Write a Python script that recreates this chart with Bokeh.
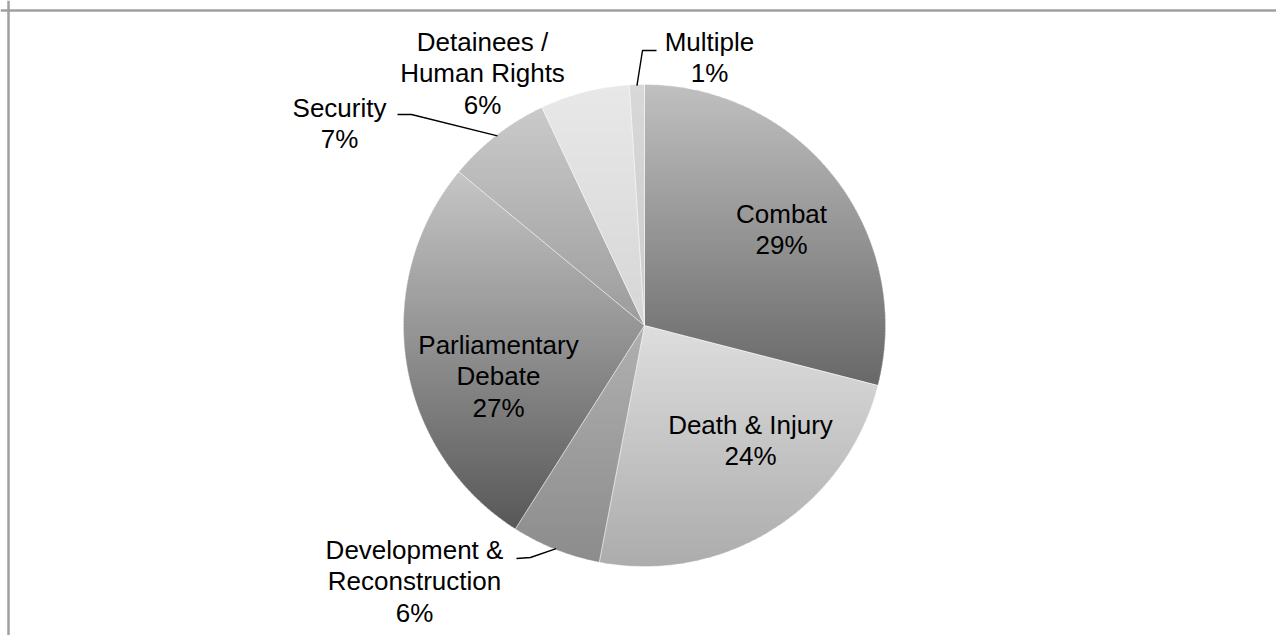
import numpy as np
from bokeh.plotting import figure
from bokeh.models import Range1d, Span, ColumnDataSource
from bokeh.core.properties import value
from bokeh.embed import file_html
from bokeh.resources import INLINE

# ---- data ----
categories = ["Combat", "Death & Injury", "Development & Reconstruction",
              "Parliamentary Debate", "Security", "Detainees / Human Rights", "Multiple"]
shares = [29, 24, 6, 27, 7, 6, 1]
label_lines = [["Combat"], ["Death & Injury"], ["Development &", "Reconstruction"],
               ["Parliamentary", "Debate"], ["Security"], ["Detainees /", "Human Rights"],
               ["Multiple"]]

# ---- layout / style ----
W, H = 1276, 635
CX, CY, R = 644, 325, 241          # pie centre / radius in page pixels
top_colors = ["#c0c0c0", "#dedede", "#b0b0b0", "#c6c6c6", "#cacaca", "#e8e8e8", "#d8d8d8"]
bot_colors = ["#686868", "#acacac", "#8c8c8c", "#585858", "#9c9c9c", "#d6d6d6", "#cccccc"]
label_pos = [(781, 213), (750, 424), (414, 549), (498, 344), (339, 107), (482, 41), (709, 41)]
LINE_H = 31.5
leader_knees = {2: [(516, 558), (530, 557)], 4: [(397, 114), (411, 114)], 6: [(656, 50), (642, 50)]}
FONT = "Liberation Sans"


def hex2rgb(h):
    h = h.lstrip("#")
    return np.array([int(h[i:i + 2], 16) for i in (0, 2, 4)], dtype=float)


def lerp_color(a, b, t):
    c = hex2rgb(a) * (1 - t) + hex2rgb(b) * t
    return "#%02x%02x%02x" % tuple(int(round(v)) for v in c)


def clip_y(poly, y0, keep_ge):
    out = []
    n = len(poly)
    for i in range(n):
        p, q = poly[i], poly[(i + 1) % n]
        pin = p[1] >= y0 if keep_ge else p[1] <= y0
        qin = q[1] >= y0 if keep_ge else q[1] <= y0
        if pin:
            out.append(p)
        if pin != qin:
            t = (y0 - p[1]) / (q[1] - p[1])
            out.append((p[0] + t * (q[0] - p[0]), y0))
    return out


def to_data(pts):
    return [x for x, y in pts], [H - y for x, y in pts]


total = float(sum(shares))
cum = np.concatenate([[0], np.cumsum(shares)]) / total * 360.0

strip_xs, strip_ys, strip_cols = [], [], []
out_xs, out_ys = [], []
mid_angles = []
for i, s in enumerate(shares):
    a0, a1 = np.radians(cum[i]), np.radians(cum[i + 1])
    mid_angles.append((a0 + a1) / 2)
    n = max(3, int((a1 - a0) / np.radians(1.0)) + 2)
    ang = np.linspace(a0, a1, n)
    poly = [(CX, CY)] + [(CX + R * np.sin(a), CY - R * np.cos(a)) for a in ang]
    ox, oy = to_data(poly)
    out_xs.append(ox)
    out_ys.append(oy)
    ymin = min(p[1] for p in poly)
    ymax = max(p[1] for p in poly)
    nstrips = max(2, int((ymax - ymin) / 3))
    edges = np.linspace(ymin, ymax, nstrips + 1)
    for k in range(nstrips):
        sub = clip_y(poly, edges[k] - 0.6, True)
        sub = clip_y(sub, edges[k + 1] + 0.6, False)
        if len(sub) < 3:
            continue
        sx, sy = to_data(sub)
        strip_xs.append(sx)
        strip_ys.append(sy)
        strip_cols.append(lerp_color(top_colors[i], bot_colors[i], (k + 0.5) / nstrips))

p = figure(width=W, height=H, x_range=Range1d(0, W), y_range=Range1d(0, H),
           output_backend="svg", toolbar_location=None, min_border=0,
           x_axis_type=None, y_axis_type=None)
p.grid.visible = False
p.outline_line_color = None
p.background_fill_color = "white"
p.border_fill_color = "white"

p.patches(xs="xs", ys="ys", fill_color="c", line_color=None,
          source=ColumnDataSource(dict(xs=strip_xs, ys=strip_ys, c=strip_cols)))
p.patches(xs=out_xs, ys=out_ys, fill_color=None, line_color="white",
          line_alpha=0.45, line_width=0.8)

# leader lines
lx, ly = [], []
for i, knees in leader_knees.items():
    a = mid_angles[i]
    end = (CX + (R - 1) * np.sin(a), CY - (R - 1) * np.cos(a))
    xs_, ys_ = to_data(knees + [end])
    lx.append(xs_)
    ly.append(ys_)
p.multi_line(xs=lx, ys=ly, line_color="black", line_width=1.4)

# labels
tx, ty, tt = [], [], []
for i, lines in enumerate(label_lines):
    x0, y0 = label_pos[i]
    allines = lines + ["%d%%" % shares[i]]
    for j, t in enumerate(allines):
        tx.append(x0)
        ty.append(H - (y0 + j * LINE_H))
        tt.append(t)
p.text(x=tx, y=ty, text=tt, text_font=value(FONT), text_font_size="26px",
       text_align="center", text_baseline="middle", text_color="black")

# chart frame (only top and left edges visible in the window)
p.add_layout(Span(location=8, dimension="height", line_color="#a0a0a0", line_width=2.5))
p.add_layout(Span(location=H - 10, dimension="width", line_color="#a0a0a0", line_width=2.5))

open("out.html", "w").write(file_html(p, INLINE))
